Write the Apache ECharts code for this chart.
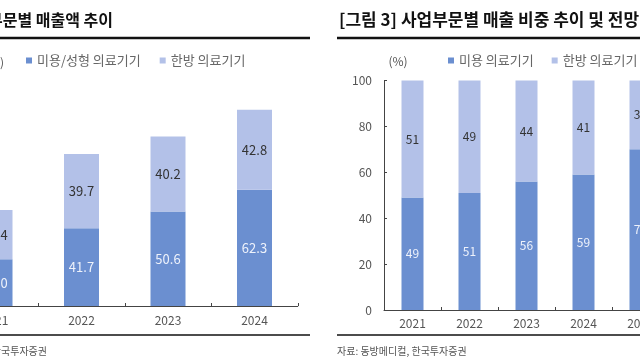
<!DOCTYPE html>
<html>
<head>
<meta charset="utf-8">
<script src="https://cdn.jsdelivr.net/npm/echarts@6/dist/echarts.min.js"></script>
<style>
html,body{margin:0;padding:0;background:#fff;overflow:hidden;width:640px;height:360px;}
#main{position:absolute;left:-100px;top:0;width:840px;height:360px;}
</style>
</head>
<body>
<div id="main"></div>
<script>
// ---- data ----
var yearsLeft = ['2021', '2022', '2023', '2024'];
var beautyLeft = [25.0, 41.7, 50.6, 62.3];
var orientalLeft = [26.4, 39.7, 40.2, 42.8];

var yearsRight = ['2021', '2022', '2023', '2024', '2025'];
var beautyRight = [49, 51, 56, 59, 70];
var orientalRight = [51, 49, 44, 41, 30];

var leftNames = ['미용/성형 의료기기', '한방 의료기기'];
var rightNames = ['미용 의료기기', '한방 의료기기'];
var titleLeft = '[그림 2] 사업부문별 매출액 추이';
var titleRight = '[그림 3] 사업부문별 매출 비중 추이 및 전망';
var sourceText = '자료: 동방메디컬, 한국투자증권';
var unitLeft = '(십억원)';
var unitRight = '(%)';

// ---- style ----
var DARK = '#6b8fd0';
var LIGHT = '#b3c1e8';
var FONT = '"Noto Sans CJK KR", "Noto Sans", sans-serif';
var OX = 100; // container shift

var chart = echarts.init(document.getElementById('main'), null, {renderer: 'canvas'});

function lbl(color, size) {
  return {show: true, position: 'inside', color: color, fontSize: size, fontFamily: FONT};
}

var option = {
  backgroundColor: '#fff',
  animation: false,
  textStyle: {fontFamily: FONT},
  legend: [
    {
      data: leftNames, left: 26 + OX, top: 54, padding: 0,
      icon: 'rect', itemWidth: 6, itemHeight: 6, itemGap: 19,
      textStyle: {fontSize: 13, color: '#666', fontFamily: FONT}
    },
    {
      data: rightNames, left: 448 + OX, top: 54, padding: 0,
      icon: 'rect', itemWidth: 6, itemHeight: 6, itemGap: 18,
      textStyle: {fontSize: 13, color: '#666', fontFamily: FONT}
    }
  ],
  grid: [
    {left: -48.25 + OX, width: 346, top: 82, height: 224, containLabel: false},
    {left: 384 + OX, width: 285, top: 80.5, height: 229.5, containLabel: false}
  ],
  xAxis: [
    {
      type: 'category', gridIndex: 0, data: yearsLeft,
      axisLine: {lineStyle: {color: '#444', width: 1}},
      axisTick: {show: true, inside: true, length: 3, lineStyle: {color: '#444'}},
      axisLabel: {color: '#555', fontSize: 12, margin: 8, fontFamily: FONT}
    },
    {
      type: 'category', gridIndex: 1, data: yearsRight,
      axisLine: {lineStyle: {color: '#444', width: 1}},
      axisTick: {show: true, inside: true, length: 3, lineStyle: {color: '#444'}},
      axisLabel: {color: '#555', fontSize: 12, margin: 7, fontFamily: FONT}
    }
  ],
  yAxis: [
    {
      type: 'value', gridIndex: 0, min: 0, max: 120, show: false,
      splitLine: {show: false}
    },
    {
      type: 'value', gridIndex: 1, min: 0, max: 100, interval: 20,
      axisLine: {show: true, lineStyle: {color: '#444', width: 1}},
      axisTick: {show: true, inside: true, length: 3, lineStyle: {color: '#444'}},
      axisLabel: {color: '#555', fontSize: 12, margin: 12, fontFamily: FONT},
      splitLine: {show: false}
    }
  ],
  series: [
    {
      name: leftNames[0], type: 'bar', stack: 'L', xAxisIndex: 0, yAxisIndex: 0,
      data: beautyLeft, barWidth: 35, itemStyle: {color: DARK},
      label: Object.assign(lbl('#eef2fb', 13), {formatter: function(p){return p.value.toFixed(1);}})
    },
    {
      name: leftNames[1], type: 'bar', stack: 'L', xAxisIndex: 0, yAxisIndex: 0,
      data: orientalLeft, barWidth: 35, itemStyle: {color: LIGHT},
      label: Object.assign(lbl('#333', 13), {formatter: function(p){return p.value.toFixed(1);}})
    },
    {
      name: rightNames[0], type: 'bar', stack: 'R', xAxisIndex: 1, yAxisIndex: 1,
      data: beautyRight, barWidth: 22, itemStyle: {color: DARK},
      label: lbl('#eef2fb', 12)
    },
    {
      name: rightNames[1], type: 'bar', stack: 'R', xAxisIndex: 1, yAxisIndex: 1,
      data: orientalRight, barWidth: 22, itemStyle: {color: LIGHT},
      label: lbl('#333', 12)
    }
  ],
  graphic: [
    {type: 'text', x: 113 + OX, y: 20, style: {text: titleLeft, font: 'bold 16px ' + FONT, fill: '#111', textAlign: 'right', textVerticalAlign: 'middle'}},
    {type: 'text', x: 339 + OX, y: 20, style: {text: titleRight, font: 'bold 17px ' + FONT, fill: '#111', textAlign: 'left', textVerticalAlign: 'middle'}},
    {type: 'line', shape: {x1: 0, y1: 38, x2: 310 + OX, y2: 38}, style: {stroke: '#111', lineWidth: 2.5}},
    {type: 'line', shape: {x1: 337 + OX, y1: 38, x2: 840, y2: 38}, style: {stroke: '#111', lineWidth: 2.5}},
    {type: 'line', shape: {x1: 0, y1: 335, x2: 310 + OX, y2: 335}, style: {stroke: '#111', lineWidth: 1.5}},
    {type: 'line', shape: {x1: 337 + OX, y1: 335, x2: 840, y2: 335}, style: {stroke: '#111', lineWidth: 1.5}},
    {type: 'text', x: 4 + OX, y: 62, style: {text: unitLeft, font: '12px ' + FONT, fill: '#555', textAlign: 'right', textVerticalAlign: 'middle'}},
    {type: 'text', x: 398 + OX, y: 61, style: {text: unitRight, font: '12px ' + FONT, fill: '#555', textAlign: 'center', textVerticalAlign: 'middle'}},
    {type: 'text', x: 47 + OX, y: 351, style: {text: sourceText, font: '10px ' + FONT, fill: '#555', textAlign: 'right', textVerticalAlign: 'middle'}},
    {type: 'text', x: 337 + OX, y: 351, style: {text: sourceText, font: '10px ' + FONT, fill: '#555', textAlign: 'left', textVerticalAlign: 'middle'}}
  ]
};
chart.setOption(option);
</script>
</body>
</html>
